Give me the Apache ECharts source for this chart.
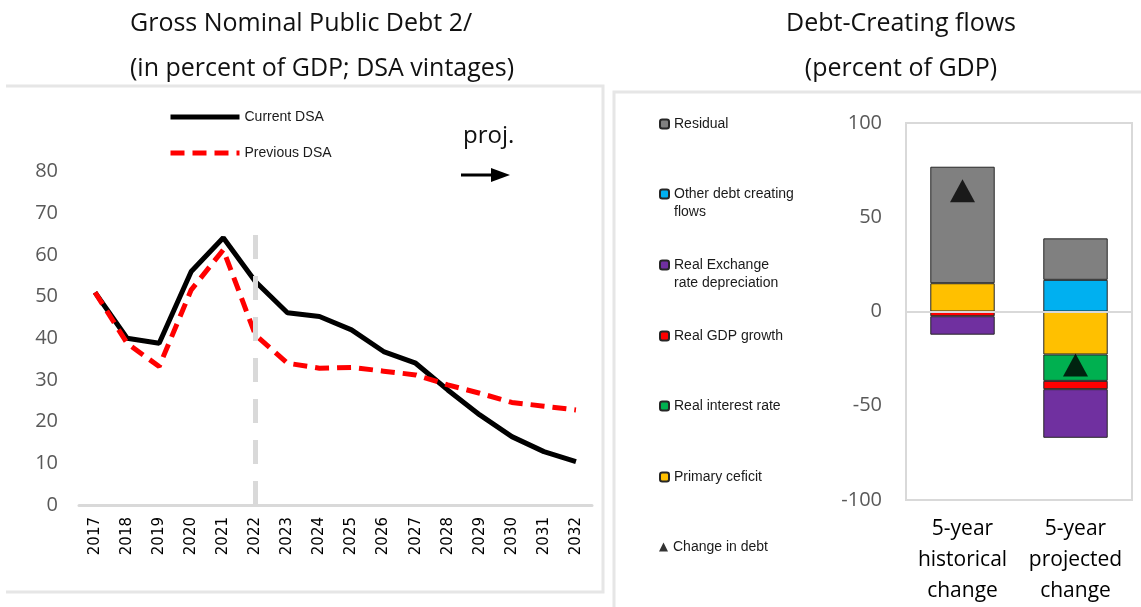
<!DOCTYPE html>
<html>
<head>
<meta charset="utf-8">
<script src="https://cdn.jsdelivr.net/npm/echarts@6/dist/echarts.min.js"></script>
<style>
html,body{margin:0;padding:0;background:#fff;}
#chart{width:1141px;height:607px;}
</style>
</head>
<body>
<div id="chart"></div>
<script>
// ---- Left panel data ----
var years = ['2017','2018','2019','2020','2021','2022','2023','2024','2025','2026','2027','2028','2029','2030','2031','2032'];
var currentDSA  = [51, 40, 38.8, 56, 64.1, 53.6, 46.1, 45.2, 42, 36.8, 34, 27.6, 21.6, 16.4, 12.8, 10.4];
var previousDSA = [51, 38.8, 33.2, 51.6, 61.2, 40.8, 34, 32.8, 33, 32.1, 31.2, 28.8, 26.8, 24.6, 23.7, 22.8];
var projStartYear = '2022';

// ---- Right panel data ----
var flowCategories = ['5-year\nhistorical\nchange', '5-year\nprojected\nchange'];
var primaryDeficit = [15, -22.8];
var realInterest   = [null, -14];
var realGDP        = [-2.5, -4.4];
var realExchange   = [-9.8, -25.8];
var otherFlows     = [null, 16.8];
var residual       = [61.8, 22];
var changeInDebt   = [64, -28.4];

var chart = echarts.init(document.getElementById('chart'));
var txt = '#1a1a1a';
var barBorder = {borderColor:'#262626', borderWidth:1};

function legendItem(name, top, label){
  return {
    data:[name], left:659, top:top, orient:'vertical', padding:0,
    itemWidth:9, itemHeight:9, selectedMode:false,
    formatter: function(){ return label; },
    textStyle:{fontFamily:'Liberation Sans, Arial, sans-serif', fontSize:14, color:txt, lineHeight:18}
  };
}

var option = {
  animation:false,
  title:[
    {text:'Gross Nominal Public Debt 2/\n(in percent of GDP; DSA vintages)', left:125, top:-4,
     textStyle:{fontFamily:'Open Sans', fontWeight:'normal', fontSize:25, color:'#111', lineHeight:45}},
    {text:'Debt-Creating flows\n(percent of GDP)', left:896, top:-4, textAlign:'center',
     textStyle:{fontFamily:'Open Sans', fontWeight:'normal', fontSize:25, color:'#111', lineHeight:45}}
  ],
  legend:[
    {data:['Current DSA','Previous DSA'], left:168, top:110, orient:'vertical', padding:0,
     itemWidth:69, itemHeight:14, itemGap:22, selectedMode:false,
     itemStyle:{opacity:0}, lineStyle:{width:5},
     textStyle:{fontFamily:'Liberation Sans, Arial, sans-serif', fontSize:14, color:txt}},
    legendItem('Residual', 115, 'Residual'),
    legendItem('Other debt creating flows', 167, ' \nOther debt creating\nflows'),
    legendItem('Real Exchange rate depreciation', 238, ' \nReal Exchange\nrate depreciation'),
    legendItem('Real GDP growth', 327, 'Real GDP growth'),
    legendItem('Real interest rate', 397, 'Real interest rate'),
    legendItem('Primary ceficit', 468, 'Primary ceficit'),
    legendItem('Change in debt', 538, 'Change in debt')
  ],
  grid:[
    {left:79, width:513, top:171.4, height:333.6},
    {left:906, width:226, top:123, height:380, show:true, borderColor:'#d9d9d9', borderWidth:2}
  ],
  xAxis:[
    {type:'category', gridIndex:0, data:years, boundaryGap:true,
     axisLine:{lineStyle:{color:'#d9d9d9', width:3}}, axisTick:{show:false},
     axisLabel:{rotate:90, margin:12, fontFamily:'DejaVu Sans', fontSize:15, color:'#000'}},
    {type:'category', gridIndex:1, data:flowCategories,
     axisLine:{show:false}, axisTick:{show:false},
     axisLabel:{margin:14, fontFamily:'Open Sans', fontSize:21, lineHeight:31, color:'#000', interval:0}}
  ],
  yAxis:[
    {type:'value', gridIndex:0, min:0, max:80, interval:10,
     axisLine:{show:false}, axisTick:{show:false}, splitLine:{show:false},
     axisLabel:{margin:21, fontFamily:'Open Sans', fontSize:20, color:'#595959'}},
    {type:'value', gridIndex:1, min:-100, max:100, interval:50,
     axisLine:{show:false}, axisTick:{show:false}, splitLine:{show:false},
     axisLabel:{margin:24, fontFamily:'Open Sans', fontSize:20, color:'#595959'}}
  ],
  graphic:[
    {type:'polyline', shape:{points:[[6,86],[603,86],[603,592],[6,592]]}, style:{stroke:'#e6e6e6', lineWidth:3, fill:null}, z:0},
    {type:'polyline', shape:{points:[[1141,92],[614,92],[614,607]]}, style:{stroke:'#e6e6e6', lineWidth:3, fill:null}, z:0},
    {type:'text', left:463, top:124, style:{text:'proj.', font:'500 24px "Open Sans"', fill:'#111'}},
    {type:'line', shape:{x1:461, y1:175, x2:494, y2:175}, style:{stroke:'#000', lineWidth:3}},
    {type:'polygon', shape:{points:[[491,168],[510,175],[491,182]]}, style:{fill:'#000'}}
  ],
  series:[
    {name:'Current DSA', type:'line', xAxisIndex:0, yAxisIndex:0, data:currentDSA,
     symbol:'none', lineStyle:{color:'#000', width:5}, itemStyle:{color:'#000'}, z:3,
     markLine:{silent:true, symbol:'none', label:{show:false},
       lineStyle:{color:'#d9d9d9', width:5, type:[24,17]},
       data:[[{xAxis:projStartYear, yAxis:0},{xAxis:projStartYear, yAxis:65}]]}},
    {name:'Previous DSA', type:'line', xAxisIndex:0, yAxisIndex:0, data:previousDSA,
     symbol:'none', lineStyle:{color:'#ff0000', width:5, type:[14,8]}, itemStyle:{color:'#ff0000'}, z:4},

    {name:'Primary ceficit', type:'bar', xAxisIndex:1, yAxisIndex:1, stack:'f', barWidth:'57%', data:primaryDeficit,
     itemStyle:Object.assign({color:'#ffc000'}, barBorder),
     markLine:{silent:true, symbol:'none', label:{show:false}, lineStyle:{color:'#d9d9d9', width:2, type:'solid'}, data:[{yAxis:0}]}},
    {name:'Real interest rate', type:'bar', xAxisIndex:1, yAxisIndex:1, stack:'f', data:realInterest,
     itemStyle:Object.assign({color:'#00b050'}, barBorder)},
    {name:'Real GDP growth', type:'bar', xAxisIndex:1, yAxisIndex:1, stack:'f', data:realGDP,
     itemStyle:Object.assign({color:'#ff0000'}, barBorder)},
    {name:'Real Exchange rate depreciation', type:'bar', xAxisIndex:1, yAxisIndex:1, stack:'f', data:realExchange,
     itemStyle:Object.assign({color:'#7030a0'}, barBorder)},
    {name:'Other debt creating flows', type:'bar', xAxisIndex:1, yAxisIndex:1, stack:'f', data:otherFlows,
     itemStyle:Object.assign({color:'#00b0f0'}, barBorder)},
    {name:'Residual', type:'bar', xAxisIndex:1, yAxisIndex:1, stack:'f', data:residual,
     itemStyle:Object.assign({color:'#808080'}, barBorder)},
    {name:'Change in debt', type:'scatter', xAxisIndex:1, yAxisIndex:1, data:changeInDebt,
     symbol:'triangle', symbolSize:[25,23], itemStyle:{color:'#000'}, z:10}
  ]
};
chart.setOption(option);
</script>
</body>
</html>
